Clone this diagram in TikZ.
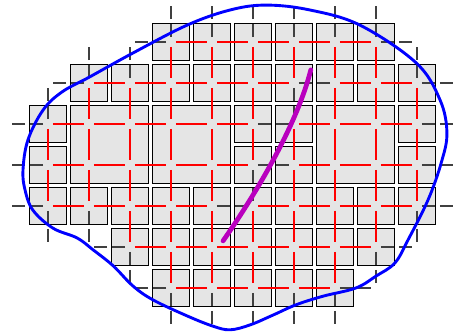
\documentclass[tikz,border=0pt]{standalone}
\usepackage{tikz}
\usetikzlibrary{calc}

\definecolor{crackviolet}{RGB}{185,0,190}

\begin{document}
\begin{tikzpicture}[
        cell/.style={
            draw=black,
            line width=0.8pt,
            fill=black!10,
            minimum size=0.9cm,
            inner sep=0pt
        },
        bigcell/.style={cell, minimum size=1.9cm},
        link/.style={red, line width=1.9pt, shorten <=0.12cm, shorten >=0.12cm},
        cutlink/.style={black!75, line width=1.6pt, dash pattern=on 0.32cm off 0.12cm,
            shorten <=0.12cm, shorten >=0.12cm},
        outerbound/.style={blue, line width=2pt},
        crack/.style={crackviolet, line width=3.3pt, line cap=round}
    ]
        \useasboundingbox (-1.171,1.024) rectangle (9.878,-7.098);

        % grid points (cell centres and ghost points)
        \foreach \i in {-1,...,10}
            \foreach \j in {-1,...,7}
                \coordinate (n-\i-\j) at (\i,-\j);

        % cells
        \foreach \j/\cols in {0/{3,...,8}, 1/{1,...,9}, 2/{0,5,6,9}, 3/{0,5,6,9},
                              4/{0,...,9}, 5/{2,...,8}, 6/{3,...,7}}
            \foreach \i in \cols
                \node[cell] (c-\i-\j) at (n-\i-\j) {};
        \node[bigcell] (big-a) at (1.5,-2.5) {};
        \node[bigcell] (big-b) at (3.5,-2.5) {};
        \node[bigcell] (big-c) at (7.5,-2.5) {};

        % horizontal links
        \foreach \j/\a/\b in {0/3/8, 1/1/6, 1/7/9, 2/0/5, 2/6/9, 3/0/5, 3/6/9,
                              4/0/4, 4/5/9, 5/2/8, 6/3/7} {
            \pgfmathtruncatemacro\c{\b-1}
            \foreach \i in {\a,...,\c} {
                \pgfmathtruncatemacro\k{\i+1}
                \draw[link] (n-\i-\j) -- (n-\k-\j);
            }
        }

        % vertical links
        \foreach \i/\a/\b in {0/2/4, 1/1/4, 2/1/5, 3/0/6, 4/0/6, 5/0/3, 5/4/6,
                              6/0/1, 6/2/6, 7/0/6, 8/0/5, 9/1/4} {
            \pgfmathtruncatemacro\c{\b-1}
            \foreach \j in {\a,...,\c} {
                \pgfmathtruncatemacro\k{\j+1}
                \draw[link] (n-\i-\j) -- (n-\i-\k);
            }
        }

        % links to ghost points
        \foreach \j/\a/\b in {0/3/8, 1/1/9, 2/0/9, 3/0/9, 4/0/9, 5/2/8, 6/3/7} {
            \pgfmathtruncatemacro\lo{\a-1}
            \pgfmathtruncatemacro\hi{\b+1}
            \draw[cutlink] (n-\a-\j) -- (n-\lo-\j);
            \draw[cutlink] (n-\b-\j) -- (n-\hi-\j);
        }
        \foreach \i/\a/\b in {0/2/4, 1/1/4, 2/1/5, 3/0/6, 4/0/6, 5/0/6, 6/0/6,
                              7/0/6, 8/0/5, 9/1/4} {
            \pgfmathtruncatemacro\lo{\a-1}
            \pgfmathtruncatemacro\hi{\b+1}
            \draw[cutlink] (n-\i-\a) -- (n-\i-\lo);
            \draw[cutlink] (n-\i-\b) -- (n-\i-\hi);
        }

        % links cut by the crack
        \draw[cutlink] (n-6-1) -- (n-7-1);
        \draw[cutlink] (n-6-1) -- (n-6-2);
        \draw[cutlink] (n-5-2) -- (n-6-2);
        \draw[cutlink] (n-5-3) -- (n-6-3);
        \draw[cutlink] (n-5-3) -- (n-5-4);
        \draw[cutlink] (n-4-4) -- (n-5-4);

        % outer boundary
        \draw[outerbound] plot[smooth cycle, tension=0.6] coordinates {
            (-0.61,-3.12) (-0.49,-2.39) (-0.12,-1.66) (0.34,-1.22) (1.02,-0.85)
            (2.07,-0.27) (3.39,0.41) (4.44,0.78) (5.32,0.90) (6.39,0.78)
            (7.61,0.41) (8.98,-0.51) (9.56,-1.41) (9.73,-2.22) (9.59,-2.95)
            (9.27,-3.85) (8.78,-4.83) (8.46,-5.39) (8.00,-5.71) (7.51,-6.00)
            (6.71,-6.20) (6.05,-6.41) (5.49,-6.66) (4.93,-6.90) (4.44,-7.02)
            (4.02,-6.93) (3.39,-6.68) (2.56,-6.29) (2.07,-5.95) (1.59,-5.46)
            (1.10,-5.07) (0.71,-4.78) (0.12,-4.54) (-0.37,-4.10) (-0.56,-3.61)};

        % crack
        \coordinate (crack-s) at (4.27,-4.85);
        \coordinate (crack-e) at (6.41,-0.68);
        \draw[crack] (crack-s) .. controls (5.0,-3.8) and (6.05,-2.1) .. (crack-e);
    \end{tikzpicture}
\end{document}
